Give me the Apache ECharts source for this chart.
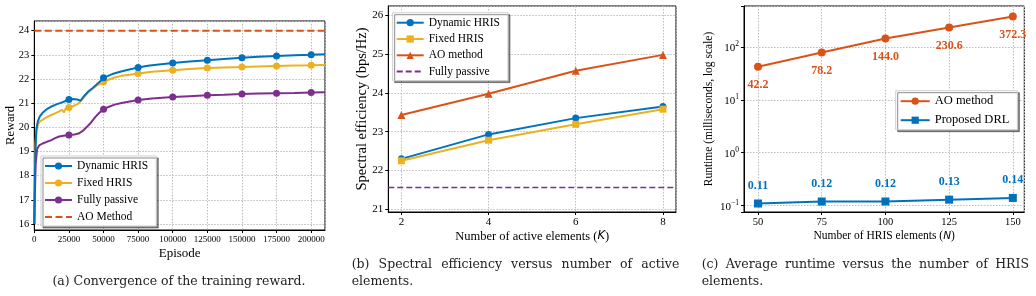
<!DOCTYPE html>
<html>
<head>
<meta charset="utf-8">
<script src="https://cdn.jsdelivr.net/npm/echarts@6/dist/echarts.min.js"></script>
<style>
  html, body { margin: 0; padding: 0; background: #fff; }
  .panel { position: absolute; top: 0; height: 296px; }
</style>
</head>
<body>
<div id="chartA" class="panel" style="left:0;width:345px"></div>
<div id="chartB" class="panel" style="left:345px;width:345px"></div>
<div id="chartC" class="panel" style="left:690px;width:346px"></div>
<script>
// (a) training reward, [episode, reward]
const rewardDynamic = [[0,16.0],[300,17.5],[800,19.0],[1500,19.9],[2500,20.25],[4000,20.45],[6000,20.6],[9000,20.75],[12000,20.85],[16000,20.95],[20000,21.03],[23000,21.1],[25000,21.15],[28000,21.17],[31000,21.15],[33500,21.1],[36000,21.3],[39000,21.48],[42000,21.62],[45000,21.77],[48000,21.93],[50000,22.05],[53000,22.12],[57000,22.22],[62000,22.3],[67000,22.37],[71000,22.42],[75000,22.48],[82000,22.55],[90000,22.6],[100000,22.66],[112000,22.72],[125000,22.78],[137000,22.83],[150000,22.88],[162000,22.92],[175000,22.95],[188000,22.98],[200000,23.0],[210000,23.02]]
const rewardFixed = [[0,16.0],[300,17.8],[800,19.3],[1500,19.85],[2500,20.1],[4000,20.25],[6500,20.33],[9000,20.42],[12000,20.5],[15000,20.58],[18000,20.66],[20000,20.72],[21500,20.62],[22500,20.76],[25000,20.82],[28000,20.88],[31000,20.95],[33000,21.05],[36000,21.25],[39000,21.45],[42000,21.6],[45000,21.72],[48000,21.82],[50000,21.88],[54000,21.98],[58000,22.06],[63000,22.13],[69000,22.18],[75000,22.23],[85000,22.3],[100000,22.36],[112000,22.41],[125000,22.45],[137000,22.48],[150000,22.5],[162000,22.52],[175000,22.54],[188000,22.56],[200000,22.57],[210000,22.58]]
const rewardPassive = [[0,16.0],[400,17.2],[1000,18.5],[2000,19.1],[3500,19.25],[6000,19.33],[9000,19.4],[12000,19.46],[15000,19.55],[18000,19.62],[21000,19.65],[25000,19.68],[29000,19.7],[32000,19.74],[35000,19.85],[38000,20.02],[41000,20.2],[44000,20.42],[47000,20.6],[50000,20.75],[54000,20.85],[58000,20.94],[63000,21.01],[69000,21.07],[75000,21.13],[85000,21.19],[100000,21.25],[112000,21.29],[125000,21.33],[137000,21.35],[150000,21.38],[162000,21.4],[175000,21.41],[188000,21.42],[200000,21.44],[210000,21.45]]
const rewardAO = 24
const episodeRange = [0, 210000]

// (b) spectral efficiency vs K
const activeK = [2, 4, 6, 8]
const seDynamic = [22.3, 22.93, 23.35, 23.65]
const seFixed = [22.25, 22.78, 23.19, 23.58]
const seAO = [23.43, 23.98, 24.57, 24.98]
const sePassive = 21.56
const kRange = [1.7, 8.3]

// (c) runtime vs N (ms)
const hrisN = [50, 75, 100, 125, 150]
const runtimeAO = [42.2, 78.2, 144.0, 230.6, 372.3]
const runtimeDRL = [0.11, 0.12, 0.12, 0.13, 0.14]

const BLUE = '#0072BD', ORANGE = '#D95319', YELLOW = '#EDB120', PURPLE = '#7E2F8E'
const SERIF = 'Liberation Serif'
const CAPTION_FONT = '12.5px "DejaVu Serif"'

// matplotlib-artige Achsen
function axisStyle(fontSize) {
  return {
    nameMoveOverlap: false,
    axisLine: { show: true, onZero: false, lineStyle: { color: '#000', width: 1 } },
    axisTick: { show: true, inside: false, length: 3, lineStyle: { color: '#000' } },
    axisLabel: { color: '#000', fontFamily: SERIF, fontSize: fontSize, margin: 5, formatter: v => String(v) },
    splitLine: { show: true, lineStyle: { color: '#bdbdbd', type: [1.5, 1.5], width: 1 } }
  }
}

function legendStyle(fontSize, lineHeight) {
  return {
    orient: 'vertical',
    backgroundColor: '#fff',
    borderColor: '#cfcfcf',
    borderWidth: 1,
    borderRadius: 0,
    shadowColor: 'rgba(0,0,0,0.45)',
    shadowOffsetX: 2,
    shadowOffsetY: 2,
    shadowBlur: 0,
    textStyle: { color: '#000', fontFamily: SERIF, fontSize: fontSize, lineHeight: lineHeight },
    selectedMode: false
  }
}

function gridBox(left, right, top, bottom) {
  return { left, right, top, bottom, containLabel: false, outerBoundsMode: 'none', show: true, borderColor: '#000', borderWidth: 1, backgroundColor: 'transparent' }
}

function markEvery(points, step) {
  return points.map(p => ({ value: p, symbol: (p[0] > 0 && p[0] % step === 0) ? 'circle' : 'none' }))
}

// Bildunterschrift, erste Zeile ggf. im Blocksatz wie im LaTeX-Original
const measureCtx = document.createElement('canvas').getContext('2d')
measureCtx.font = CAPTION_FONT
function captionText(t, x, y, align) {
  return { type: 'text', x: x, y: y, style: { text: t, font: CAPTION_FONT, fill: '#222', align: align, verticalAlign: 'middle' } }
}
function justifiedLine(t, x, y, width) {
  const words = t.split(' ')
  const total = words.reduce((s, w) => s + measureCtx.measureText(w).width, 0)
  const gap = (width - total) / (words.length - 1)
  let cx = x
  return words.map(w => {
    const el = captionText(w, cx, y, 'left')
    cx += measureCtx.measureText(w).width + gap
    return el
  })
}

// ---------- (a) ----------
const chartA = echarts.init(document.getElementById('chartA'), null, { renderer: 'canvas' })
const axA = axisStyle(9)
chartA.setOption({
  animation: false,
  grid: gridBox(34.3, 20, 21, 66),
  xAxis: Object.assign({}, axA, {
    type: 'value', min: episodeRange[0], max: episodeRange[1], interval: 25000,
    name: 'Episode', nameLocation: 'middle', nameGap: 17,
    nameTextStyle: { color: '#000', fontFamily: SERIF, fontSize: 13 },
    axisLabel: Object.assign({}, axA.axisLabel, { showMaxLabel: false, margin: 5 })
  }),
  yAxis: Object.assign({}, axA, {
    type: 'value', min: 15.75, max: 24.4, splitNumber: 8, minInterval: 1, maxInterval: 1,
    name: 'Reward', nameLocation: 'middle', nameGap: 17,
    nameTextStyle: { color: '#000', fontFamily: SERIF, fontSize: 12.5 },
    axisLabel: Object.assign({}, axA.axisLabel, { fontSize: 10.5, showMinLabel: false, showMaxLabel: false, margin: 5 })
  }),
  legend: Object.assign(legendStyle(11.5, 12), {
    left: 41, top: 156, itemWidth: 27, itemHeight: 9, itemGap: 5, padding: [4, 8, 3, 3],
    data: ['Dynamic HRIS', 'Fixed HRIS', 'Fully passive', { name: 'AO Method', itemStyle: { opacity: 0 } }]
  }),
  series: [
    { name: 'Dynamic HRIS', type: 'line', data: markEvery(rewardDynamic, 25000), symbol: 'circle', symbolSize: 7, showAllSymbol: true, color: BLUE, lineStyle: { width: 2 }, z: 4 },
    { name: 'Fixed HRIS', type: 'line', data: markEvery(rewardFixed, 25000), symbol: 'circle', symbolSize: 7, showAllSymbol: true, color: YELLOW, lineStyle: { width: 2 }, z: 3 },
    { name: 'Fully passive', type: 'line', data: markEvery(rewardPassive, 25000), symbol: 'circle', symbolSize: 7, showAllSymbol: true, color: PURPLE, lineStyle: { width: 2 }, z: 3 },
    { name: 'AO Method', type: 'line', data: episodeRange.map(x => [x, rewardAO]), symbol: 'none', color: ORANGE, lineStyle: { width: 2, type: [7, 3.5] }, z: 3 }
  ],
  graphic: [captionText('(a) Convergence of the training reward.', 179, 282, 'center')]
})

// ---------- (b) ----------
const chartB = echarts.init(document.getElementById('chartB'), null, { renderer: 'canvas' })
const axB = axisStyle(11)
chartB.setOption({
  animation: false,
  grid: gridBox(43.3, 14, 6, 84),
  xAxis: Object.assign({}, axB, {
    type: 'value', min: kRange[0], max: kRange[1], splitNumber: 3, minInterval: 2, maxInterval: 2,
    name: 'Number of active elements ({i|K})', nameLocation: 'middle', nameGap: 18,
    nameTextStyle: { color: '#000', fontFamily: SERIF, fontSize: 12.5, rich: { i: { fontFamily: 'DejaVu Sans', fontStyle: 'italic', fontSize: 11.5 } } },
    axisLabel: Object.assign({}, axB.axisLabel, { showMinLabel: false, showMaxLabel: false })
  }),
  yAxis: Object.assign({}, axB, {
    type: 'value', min: 20.93, max: 26.24, splitNumber: 5, minInterval: 1, maxInterval: 1,
    name: 'Spectral efficiency (bps/Hz)', nameLocation: 'middle', nameGap: 19,
    nameTextStyle: { color: '#000', fontFamily: SERIF, fontSize: 14.5 },
    axisLabel: Object.assign({}, axB.axisLabel, { showMinLabel: false, showMaxLabel: false, margin: 5 })
  }),
  legend: Object.assign(legendStyle(11.5, 12), {
    left: 47.7, top: 12.7, itemWidth: 27, itemHeight: 9, itemGap: 4.3, padding: [4, 8, 3, 3],
    data: ['Dynamic HRIS', 'Fixed HRIS', 'AO method', { name: 'Fully passive', itemStyle: { opacity: 0 } }]
  }),
  series: [
    { name: 'Dynamic HRIS', type: 'line', data: activeK.map((k, i) => [k, seDynamic[i]]), symbol: 'circle', symbolSize: 7, color: BLUE, lineStyle: { width: 2 }, z: 4 },
    { name: 'Fixed HRIS', type: 'line', data: activeK.map((k, i) => [k, seFixed[i]]), symbol: 'rect', symbolSize: 7, color: YELLOW, lineStyle: { width: 2 }, z: 4 },
    { name: 'AO method', type: 'line', data: activeK.map((k, i) => [k, seAO[i]]), symbol: 'triangle', symbolSize: 8, color: ORANGE, lineStyle: { width: 2 }, z: 4 },
    { name: 'Fully passive', type: 'line', data: kRange.map(k => [k, sePassive]), symbol: 'none', color: PURPLE, lineStyle: { width: 1.5, type: [6, 3] }, z: 3 }
  ],
  graphic: justifiedLine('(b) Spectral efficiency versus number of active', 6.7, 265, 327.6)
    .concat([captionText('elements.', 6.7, 282, 'left')])
})

// ---------- (c) ----------
const chartC = echarts.init(document.getElementById('chartC'), null, { renderer: 'canvas' })
const axC = axisStyle(10.5)
chartC.setOption({
  animation: false,
  grid: gridBox(54, 11.7, 6, 84),
  xAxis: Object.assign({}, axC, {
    type: 'value', min: 44.5, max: 154.5, splitNumber: 4, minInterval: 25, maxInterval: 25,
    name: 'Number of HRIS elements ({i|N})', nameLocation: 'middle', nameGap: 18,
    nameTextStyle: { color: '#000', fontFamily: SERIF, fontSize: 11.5, rich: { i: { fontFamily: 'DejaVu Sans', fontStyle: 'italic', fontSize: 10.5 } } },
    axisLabel: Object.assign({}, axC.axisLabel, { showMinLabel: false, showMaxLabel: false })
  }),
  yAxis: Object.assign({}, axC, {
    type: 'log', logBase: 10, min: 0.076, max: 590,
    name: 'Runtime (milliseconds, log scale)', nameLocation: 'middle', nameGap: 29,
    nameTextStyle: { color: '#000', fontFamily: SERIF, fontSize: 11.5 },
    axisLabel: Object.assign({}, axC.axisLabel, {
      margin: 5,
      formatter: function (v) {
        const e = Math.round(Math.log10(v))
        if (Math.abs(v - Math.pow(10, e)) > 1e-6 * Math.pow(10, e)) return ''
        return '{b|10}{s|' + (e < 0 ? '\u2212' + (-e) : e) + '}'
      },
      rich: {
        b: { fontFamily: SERIF, fontSize: 11, color: '#000', lineHeight: 14, verticalAlign: 'bottom' },
        s: { fontFamily: SERIF, fontSize: 7.5, color: '#000', lineHeight: 14, verticalAlign: 'top' }
      }
    })
  }),
  legend: Object.assign(legendStyle(12.5, 13), {
    left: 205.7, top: 90.7, itemWidth: 29, itemHeight: 9, itemGap: 6, padding: [4, 8, 3, 4],
    data: ['AO method', 'Proposed DRL']
  }),
  series: [
    {
      name: 'AO method', type: 'line', data: hrisN.map((n, i) => [n, runtimeAO[i]]), symbol: 'circle', symbolSize: 8, color: ORANGE, lineStyle: { width: 2 },
      label: { show: true, position: 'bottom', distance: 8, color: ORANGE, fontFamily: SERIF, fontWeight: 'bold', fontSize: 12, formatter: p => p.value[1].toFixed(1) }
    },
    {
      name: 'Proposed DRL', type: 'line', data: hrisN.map((n, i) => [n, runtimeDRL[i]]), symbol: 'rect', symbolSize: 8, color: BLUE, lineStyle: { width: 2 },
      label: { show: true, position: 'top', distance: 8, color: BLUE, fontFamily: SERIF, fontWeight: 'bold', fontSize: 12, formatter: p => p.value[1].toFixed(2) }
    }
  ],
  graphic: justifiedLine('(c) Average runtime versus the number of HRIS', 11.7, 265, 327.3)
    .concat([captionText('elements.', 11.7, 282, 'left')])
})
</script>
</body>
</html>
